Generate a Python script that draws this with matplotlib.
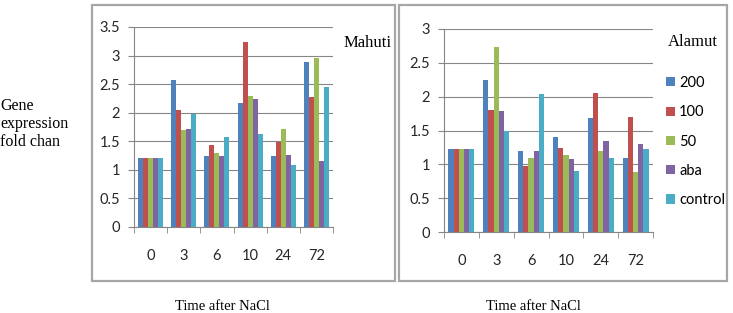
import matplotlib.pyplot as plt
import numpy as np
from matplotlib.patches import Rectangle

# Data
times = ['0', '3', '6', '10', '24', '72']
series = ['200', '100', '50', 'aba', 'control']
colors = ['#4F81BD', '#C0504D', '#9BBB59', '#8064A2', '#4BACC6']

mahuti = {
    '200':     [1.21, 2.57, 1.25, 2.17, 1.25, 2.89],
    '100':     [1.21, 2.05, 1.44, 3.24, 1.49, 2.28],
    '50':      [1.21, 1.69, 1.30, 2.30, 1.71, 2.95],
    'aba':     [1.21, 1.71, 1.25, 2.24, 1.26, 1.16],
    'control': [1.21, 1.98, 1.57, 1.62, 1.08, 2.45],
}
alamut = {
    '200':     [1.22, 2.24, 1.19, 1.40, 1.69, 1.10],
    '100':     [1.22, 1.81, 0.97, 1.24, 2.05, 1.70],
    '50':      [1.22, 2.74, 1.10, 1.14, 1.20, 0.89],
    'aba':     [1.22, 1.79, 1.20, 1.08, 1.34, 1.30],
    'control': [1.22, 1.50, 2.04, 0.90, 1.10, 1.23],
}

W, H = 733, 313
fig = plt.figure(figsize=(W / 100, H / 100), dpi=100)
serif = 'Liberation Serif'
sans = 'Lato'


def px(x0, y0, x1, y1):
    return [x0 / W, 1 - y1 / H, (x1 - x0) / W, (y1 - y0) / H]


# panel frames
for x0, x1 in [(92, 395), (399, 727)]:
    fig.patches.append(Rectangle((x0 / W, 1 - 281 / H), (x1 - x0) / W, 276 / H,
                                 transform=fig.transFigure, fill=False,
                                 edgecolor='#A6A6A6', linewidth=1.6))


def draw(ax, data, ymax, step):
    x = np.arange(len(times))
    bw = 0.75 / len(series)
    for i, s in enumerate(series):
        ax.bar(x - 0.375 + bw * (i + 0.5), data[s], bw, color=colors[i],
               label=s, zorder=3)
    ax.set_xlim(-0.5, len(times) - 0.5)
    ax.set_ylim(0, ymax)
    ax.set_yticks(np.arange(0, ymax + 0.01, step))
    ax.set_yticklabels([f'{v:g}' for v in np.arange(0, ymax + 0.01, step)],
                       fontsize=10.5, family=sans, color='#262626')
    ax.set_xticks(x)
    ax.set_xticklabels(times, fontsize=10.5, family=sans, color='#262626')
    ax.set_xticks(np.arange(-0.5, len(times)), minor=True)
    ax.tick_params(axis='x', which='major', length=0, pad=16)
    ax.tick_params(axis='x', which='minor', length=4, color='#868686')
    ax.tick_params(axis='y', length=4, color='#868686', pad=6)
    ax.grid(axis='y', color='#868686', linewidth=0.8, zorder=0)
    for sp in ['top', 'right']:
        ax.spines[sp].set_visible(False)
    for sp in ['left', 'bottom']:
        ax.spines[sp].set_color('#868686')
        ax.spines[sp].set_linewidth(0.8)


ax1 = fig.add_axes(px(134, 27, 333, 227))
draw(ax1, mahuti, 3.5, 0.5)
ax2 = fig.add_axes(px(444, 29, 653, 232))
draw(ax2, alamut, 3.0, 0.5)

fig.text(344 / W, 1 - 43 / H, 'Mahuti', family=serif, fontsize=12, va='center')
fig.text(668 / W, 1 - 42 / H, 'Alamut', family=serif, fontsize=12, va='center')

handles, labels = ax2.get_legend_handles_labels()
fig.legend(handles, labels, loc='upper left', bbox_to_anchor=(666 / W, 1 - 76 / H),
           frameon=False, prop={'family': sans, 'size': 10.5}, handlelength=0.6,
           handleheight=0.6, handletextpad=0.3, labelspacing=1.05,
           borderaxespad=0, borderpad=0)

fig.text(0, 1 - 124 / H, 'Gene\nexpression\nfold chan', family=serif, fontsize=11.5,
         va='center', ha='left', linespacing=1.15)
fig.text(222 / W, 1 - 306 / H, 'Time after NaCl', family=serif, fontsize=10.5,
         ha='center', va='center')
fig.text(533 / W, 1 - 306 / H, 'Time after NaCl', family=serif, fontsize=10.5,
         ha='center', va='center')

fig.savefig('out.png', dpi=100)
